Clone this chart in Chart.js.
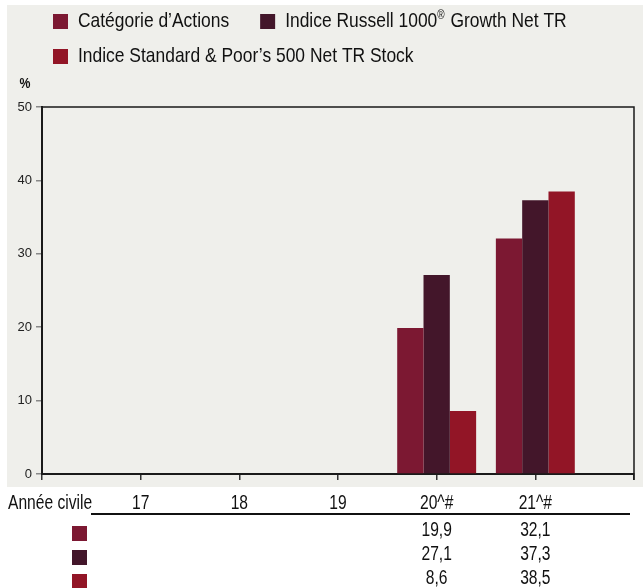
<!DOCTYPE html>
<html>
<head>
<meta charset="utf-8">
<script src="https://cdn.jsdelivr.net/npm/chart.js"></script>
<style>
  body { margin: 0; background: #fff; }
  #wrap { width: 643px; height: 588px; position: relative; }
</style>
</head>
<body>
<div id="wrap"><canvas id="myChart"></canvas></div>
<script>
const years = ['17', '18', '19', '20^#', '21^#'];
const categorie = [null, null, null, 19.9, 32.1];
const russell = [null, null, null, 27.1, 37.3];
const sp500 = [null, null, null, 8.6, 38.5];
const seriesNames = [
  'Catégorie d’Actions',
  'Indice Russell 1000® Growth Net TR',
  'Indice Standard & Poor’s 500 Net TR Stock'
];
const colours = ['rgb(124, 24, 50)', 'rgb(67, 22, 42)', 'rgb(146, 21, 38)'];

// empty slot on each side so the years sit on the tick marks
const labels = [''].concat(years, ['']);
function pad(arr) { return [null].concat(arr, [null]); }

function fmt(v) { return v.toFixed(1).replace('.', ','); }

// no narrow face installed, so squeeze Liberation Sans by hand
function narrowText(ctx, text, x, y, size, squeeze, align, weight) {
  ctx.save();
  ctx.translate(x, y);
  ctx.scale(squeeze, 1);
  ctx.font = (weight || '') + ' ' + size + 'px "Liberation Sans"';
  ctx.textAlign = align || 'left';
  ctx.fillText(text, 0, 0);
  const w = ctx.measureText(text).width * squeeze;
  ctx.restore();
  return w;
}

// draws a legend label, with ® as a small superscript
function drawLabel(ctx, text, x, y) {
  const parts = text.split('®');
  parts.forEach((p, i) => {
    x += narrowText(ctx, p, x, y, 21, 0.83);
    if (i < parts.length - 1) {
      x += narrowText(ctx, '®', x, y - 8, 12, 0.83) + 1;
    }
  });
  return x;
}

const decor = {
  id: 'decor',
  beforeDraw(chart) {
    const ctx = chart.ctx;
    ctx.save();
    ctx.fillStyle = '#efefeb';
    ctx.fillRect(7, 5, chart.width - 7, 482);
    ctx.restore();
  },
  afterDraw(chart) {
    const ctx = chart.ctx, a = chart.chartArea, xs = chart.scales.x;
    const sets = chart.data.datasets;
    ctx.save();

    // frame top + right
    ctx.strokeStyle = '#1a1a1a';
    ctx.lineWidth = 1.5;
    ctx.beginPath();
    ctx.moveTo(a.left, a.top);
    ctx.lineTo(a.right, a.top);
    ctx.lineTo(a.right, a.bottom + 6);
    ctx.stroke();

    ctx.fillStyle = '#111';
    ctx.textBaseline = 'alphabetic';

    // unit
    narrowText(ctx, '%', 25, 88, 15, 0.82, 'center', 'bold');

    // legend
    [[0, 1], [2]].forEach((row, r) => {
      let x = 53;
      const top = 14 + r * 35;
      row.forEach(i => {
        ctx.fillStyle = sets[i].backgroundColor;
        ctx.fillRect(x, top, 15, 15);
        x += 25;
        ctx.fillStyle = '#111';
        x = drawLabel(ctx, sets[i].label, x, top + 13) + 31;
      });
    });

    // table below the chart: header row from the x scale, then one row per series
    narrowText(ctx, 'Année civile', 8, 509, 20, 0.78);
    xs.ticks.forEach(t => {
      const lab = xs.getLabelForValue(t.value);
      if (lab) narrowText(ctx, lab, xs.getPixelForValue(t.value), 509, 20, 0.78, 'center');
    });
    ctx.strokeStyle = '#111';
    ctx.lineWidth = 2;
    ctx.beginPath();
    ctx.moveTo(91, 514);
    ctx.lineTo(630, 514);
    ctx.stroke();

    sets.forEach((ds, i) => {
      const top = 526 + i * 24;
      ctx.fillStyle = ds.backgroundColor;
      ctx.fillRect(72, top, 15, 15);
      ctx.fillStyle = '#111';
      ds.data.forEach((v, j) => {
        if (v === null) return;
        narrowText(ctx, fmt(v), xs.getPixelForValue(j), top + 10, 20, 0.78, 'center');
      });
    });
    ctx.restore();
  }
};

const data = {
  labels: labels,
  datasets: [
    { label: seriesNames[0], data: pad(categorie), backgroundColor: colours[0] },
    { label: seriesNames[1], data: pad(russell), backgroundColor: colours[1] },
    { label: seriesNames[2], data: pad(sp500), backgroundColor: colours[2] }
  ]
};

const config = {
  type: 'bar',
  data: data,
  options: {
    responsive: true,
    maintainAspectRatio: false,
    animation: false,
    layout: { padding: { top: 107, right: 9, left: 0, bottom: 0 } },
    categoryPercentage: 0.8,
    barPercentage: 1.0,
    plugins: {
      legend: { display: false },
      tooltip: { enabled: false }
    },
    scales: {
      x: {
        offset: false,
        grid: { offset: false, drawOnChartArea: false, drawTicks: true, tickLength: 6, color: '#333', lineWidth: 1.5 },
        border: { display: true, color: '#1a1a1a', width: 2 },
        ticks: { display: false, autoSkip: false, maxRotation: 0 },
        afterFit(scale) { scale.height = 114; }
      },
      y: {
        min: 0,
        max: 50,
        ticks: { stepSize: 10, padding: 4, color: '#222', font: { family: 'Liberation Sans', size: 13 } },
        grid: { drawOnChartArea: false, drawTicks: true, tickLength: 6, color: '#888', lineWidth: 1.5 },
        border: { display: true, color: '#1a1a1a', width: 2 },
        afterFit(scale) { scale.width = 42; }
      }
    }
  },
  plugins: [decor]
};

var myChart = new Chart(document.getElementById('myChart'), config);
</script>
</body>
</html>
